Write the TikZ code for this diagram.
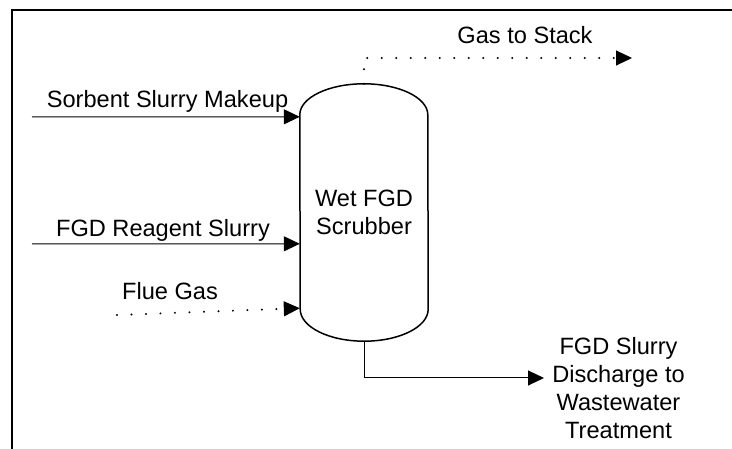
\documentclass[tikz,border=0pt]{standalone}
\usepackage{fontspec}
\setmainfont{Liberation Sans}
\usepackage{tikz}
\usetikzlibrary{arrows.meta, positioning, calc}

\begin{document}
\begin{tikzpicture}[
    x=1pt, y=-1pt,
    font=\fontsize{23.6}{28}\selectfont,
    tip/.style={-{Triangle[length=16pt, width=15pt, line width=1pt]}},
    vesselnode/.style={minimum width=128pt, minimum height=257pt,
        inner sep=0pt, align=center},
    vessel/.style={line width=1.5pt},
    frame/.style={line width=2pt},
    feed/.style={tip, line width=1pt},
    gasline/.style={tip, line width=2.2pt, line cap=round,
        dash pattern=on 0pt off 14.5pt},
    lbl/.style={anchor=base, inner sep=0pt},
]
\useasboundingbox (0,0) rectangle (732,449);

%% ========== FRAME ==========
\draw[frame] (12,449) -- (12,10) -- (732,10);

%% ========== SCRUBBER VESSEL ==========
\node[vesselnode] (scrub) at (364,212.5) {Wet FGD\\Scrubber};
\draw[vessel] ([yshift=-31pt]scrub.north west)
    arc[start angle=180, end angle=0, x radius=64pt, y radius=31pt]
    -- ([yshift=32pt]scrub.south east)
    arc[start angle=0, end angle=-180, x radius=64pt, y radius=32pt]
    -- cycle;

%% ========== FEEDS (left) ==========
\coordinate (sorbsrc) at (32,117);
\coordinate (reagsrc) at (32,244);
\coordinate (fluesrc) at (117,315);

\draw[feed] (sorbsrc) -- ([yshift=-33pt]scrub.north west);
\node[lbl] (sorblbl) at (167.5,108) {Sorbent Slurry Makeup};

\draw[feed] (reagsrc) -- ([yshift=-160pt]scrub.north west);
\node[lbl] (reaglbl) at (163,237) {FGD Reagent Slurry};

\draw[gasline] (fluesrc) -- ([yshift=33pt]scrub.south west);
\node[lbl] (fluelbl) at (170,300) {Flue Gas};

%% ========== OUTLETS ==========
\coordinate (stack) at (632,58);
\draw[gasline] (scrub.north) |- (stack);
\node[lbl] (stacklbl) at (525,44) {Gas to Stack};

\coordinate (drain) at (544,378);
\draw[feed] (scrub.south) |- (drain);
\node[align=center, inner sep=0pt] (drainlbl) at (618.5,388)
    {FGD Slurry\\Discharge to\\Wastewater\\Treatment};
\end{tikzpicture}
\end{document}
